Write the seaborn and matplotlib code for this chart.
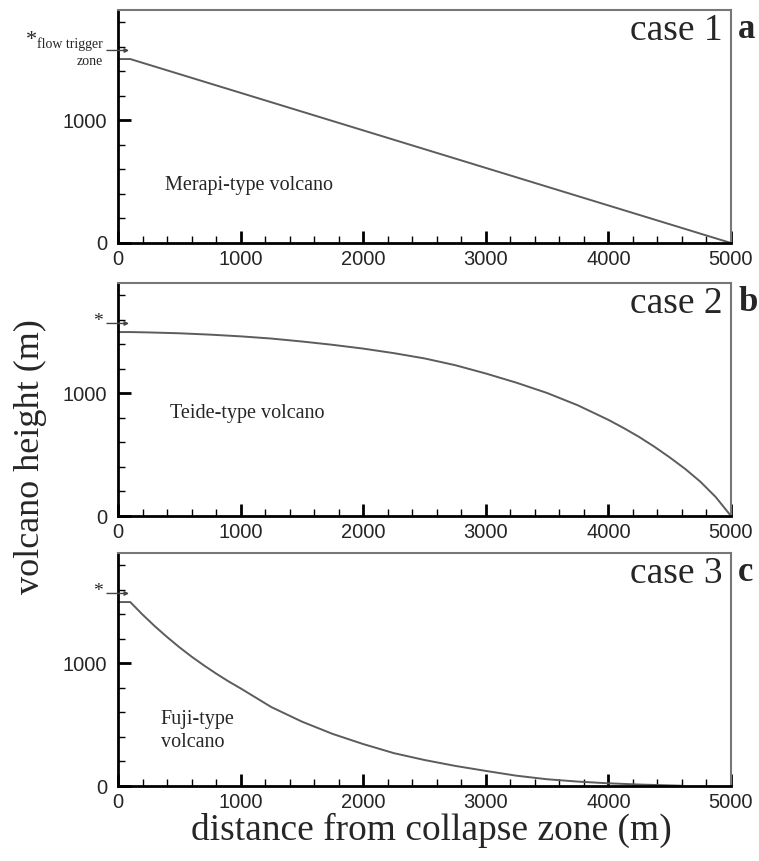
import matplotlib
matplotlib.use("Agg")
import matplotlib.pyplot as plt
import seaborn as sns
import pandas as pd
from matplotlib.ticker import MultipleLocator

# ---- data ----
dist_a = [0, 100, 5000]
height_a = [1500, 1500, 0]

dist_b = [0, 100, 250, 500, 750, 1000, 1250, 1500, 1750, 2000, 2250, 2500, 2750,
          3000, 3250, 3500, 3750, 4000, 4125, 4250, 4375, 4500, 4625, 4750, 4875, 5000]
height_b = [1500, 1500, 1497, 1490, 1479, 1465, 1447, 1423, 1396, 1365, 1328, 1285, 1230,
            1162, 1087, 1003, 903, 784, 717, 645, 565, 478, 385, 280, 155, 0]

dist_c = [0, 100, 200, 300, 400, 500, 600, 700, 800, 900, 1000, 1250, 1500, 1750,
          2000, 2250, 2500, 2750, 3000, 3250, 3500, 3750, 4000, 4250, 4500, 4600]
height_c = [1500, 1500, 1398, 1303, 1215, 1132, 1055, 984, 917, 854, 796, 644, 525, 425,
            342, 268, 212, 164, 123, 84, 55, 36, 22, 12, 5, 2]

case_labels = ["case 1", "case 2", "case 3"]
panel_letters = ["a", "b", "c"]
type_labels = ["Merapi-type volcano", "Teide-type volcano", "Fuji-type\nvolcano"]
x_ticks = [0, 1000, 2000, 3000, 4000, 5000]
y_ticks = [0, 1000]

sns.set_style("ticks")
plt.rcParams['font.family'] = ['Liberation Sans', 'DejaVu Sans']

fig = plt.figure(figsize=(7.59, 8.61), dpi=100)
left, width, height = 118 / 759, 613 / 759, 233 / 861
bottoms = [1 - 243 / 861, 1 - 516 / 861, 1 - 786 / 861]

series = [(dist_a, height_a), (dist_b, height_b), (dist_c, height_c)]
label_pos = [(0.077, 0.245), (0.085, 0.44), (0.07, 0.236)]

serif = ['Liberation Serif', 'DejaVu Serif']

for i, (dx, hy) in enumerate(series):
    ax = fig.add_axes([left, bottoms[i], width, height])
    df = pd.DataFrame({"distance": dx, "height": hy})
    sns.lineplot(data=df, x="distance", y="height", ax=ax, color="#5c5c5c",
                 linewidth=1.4, sort=False, estimator=None)
    ax.set_xlim(0, 5000)
    ax.set_ylim(0, 1900)
    ax.set_xlabel("")
    ax.set_ylabel("")
    ax.set_xticks(x_ticks)
    ax.set_yticks(y_ticks)
    ax.xaxis.set_minor_locator(MultipleLocator(200))
    ax.yaxis.set_minor_locator(MultipleLocator(200))
    ax.tick_params(which="major", direction="in", length=9, width=2, labelsize=14.5,
                   color="black")
    ax.tick_params(which="minor", direction="in", length=5, width=1, color="black")
    ax.tick_params(axis="y", pad=8)
    ax.tick_params(axis="x", pad=5)
    for s in ["left", "bottom"]:
        ax.spines[s].set_linewidth(2)
        ax.spines[s].set_color("black")
    for s in ["top", "right"]:
        ax.spines[s].set_visible(True)
        ax.spines[s].set_linewidth(1.5)
        ax.spines[s].set_color("#777777")

    ax.text(0.987, 0.985, case_labels[i], transform=ax.transAxes, ha="right", va="top",
            fontsize=27, family=serif)
    ax.text(1.012, 0.985, panel_letters[i], transform=ax.transAxes, ha="left", va="top",
            fontsize=25, fontweight="bold", family=serif)
    ax.text(label_pos[i][0], label_pos[i][1], type_labels[i], transform=ax.transAxes,
            ha="left", va="center", fontsize=14.5, family=serif, linespacing=1.3)

    # flow trigger zone arrow
    ax.annotate("", xy=(90, 1570), xytext=(-90, 1570),
                arrowprops=dict(arrowstyle="-|>", color="#444444", lw=1.0,
                                mutation_scale=6, shrinkA=0, shrinkB=0),
                annotation_clip=False)
    if i == 0:
        ax.text(-660, 1650, "*", ha="right", va="center", fontsize=16, family=serif,
                clip_on=False)
        ax.text(-122, 1623, "flow trigger", ha="right", va="center", fontsize=10,
                family=serif, clip_on=False)
        ax.text(-122, 1484, "zone", ha="right", va="center", fontsize=10,
                family=serif, clip_on=False)
    else:
        ax.text(-125, 1590, "*", ha="right", va="center", fontsize=14, family=serif,
                clip_on=False)

fig.text(0.04, 0.47, "volcano height (m)", rotation=90, ha="center", va="center",
         fontsize=26, family=serif)
fig.text(0.568, 0.036, "distance from collapse zone (m)", ha="center", va="center",
         fontsize=27, family=serif)

fig.savefig("out.png", dpi=100)
